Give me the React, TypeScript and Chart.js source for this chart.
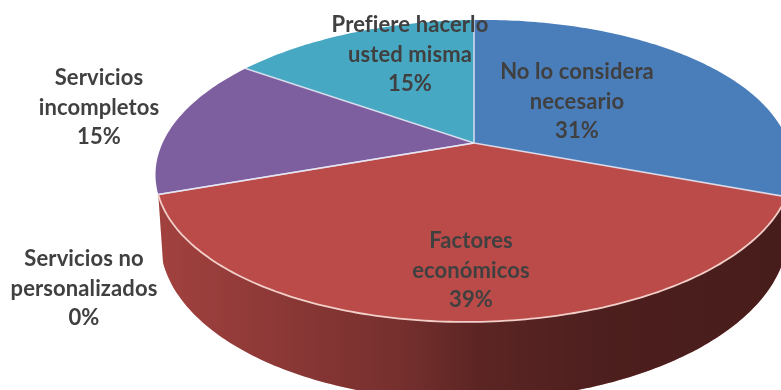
import { useEffect, useRef } from "react";
import { Chart, registerables } from "chart.js";

Chart.register(...registerables);

// Reasons, in clockwise order from twelve o'clock, each split into its printed lines.
const categories = [
  ["No lo considera", "necesario"],
  ["Factores", "económicos"],
  ["Servicios no", "personalizados"],
  ["Servicios", "incompletos"],
  ["Prefiere hacerlo", "usted misma"],
];
const shares = [31, 39, 0, 15, 15];
const sliceColors = ["#4A7EBB", "#BA4B48", "#98B954", "#7D5FA0", "#46A8C2"];

// Centre of each label's first line, in the same order as the categories.
const labelAnchors = [
  [577, 72],
  [471, 241],
  [84, 259],
  [99, 78],
  [410, 25],
];
const LINE_HEIGHT = 29.6;

// Tilted disc: apex on screen, radii, perspective strength, roll, wall height.
const APEX_X = 474;
const APEX_Y = 143;
const RADIUS_X = 313;
const RADIUS_Y = 145.8;
const PERSPECTIVE = 0.185;
const ROLL = -0.012;
const WALL = 64;
const FLOOR_SCALE = 0.985;

const project = (angle: number, floor = false) => {
  const w = 1 - PERSPECTIVE * Math.sin(angle);
  const s = floor ? FLOOR_SCALE : 1;
  const dx = (s * RADIUS_X * Math.cos(angle)) / w;
  return {
    x: APEX_X + dx,
    y: APEX_Y + (RADIUS_Y * Math.sin(angle) + (floor ? WALL : 0)) / w + ROLL * dx,
  };
};

const traceRim = (ctx: CanvasRenderingContext2D, from: number, to: number, floor = false) => {
  const steps = Math.max(2, Math.ceil(Math.abs(to - from) * 60));
  for (let i = 0; i <= steps; i++) {
    const p = project(from + ((to - from) * i) / steps, floor);
    ctx.lineTo(p.x, p.y);
  }
};

// Replaces the flat arcs with an extruded, perspective version of the same angles.
const tiltedPie = {
  id: "tiltedPie",
  beforeDatasetsDraw(chart: any) {
    const { ctx } = chart;
    const arcs = chart.getDatasetMeta(0).data;
    const colors = chart.data.datasets[0].backgroundColor;

    ctx.save();
    const wallShade = ctx.createLinearGradient(157, 0, 781, 0);
    wallShade.addColorStop(0, "rgba(0,0,0,0.13)");
    wallShade.addColorStop(0.23, "rgba(0,0,0,0.27)");
    wallShade.addColorStop(0.39, "rgba(0,0,0,0.37)");
    wallShade.addColorStop(0.51, "rgba(0,0,0,0.5)");
    wallShade.addColorStop(0.71, "rgba(0,0,0,0.59)");
    wallShade.addColorStop(1, "rgba(0,0,0,0.62)");

    // Only slices that face the viewer show a wall.
    arcs.forEach((arc: any, i: number) => {
      const mid = (arc.startAngle + arc.endAngle) / 2;
      if (arc.endAngle - arc.startAngle <= 0 || Math.sin(mid) <= 0) return;
      const wallPath = () => {
        ctx.beginPath();
        traceRim(ctx, arc.startAngle, arc.endAngle);
        traceRim(ctx, arc.endAngle, arc.startAngle, true);
        ctx.closePath();
      };
      wallPath();
      ctx.fillStyle = colors[i];
      ctx.fill();
      wallPath();
      ctx.fillStyle = wallShade;
      ctx.fill();
    });

    arcs.forEach((arc: any, i: number) => {
      if (arc.endAngle - arc.startAngle <= 0) return;
      ctx.beginPath();
      ctx.moveTo(APEX_X, APEX_Y);
      traceRim(ctx, arc.startAngle, arc.endAngle);
      ctx.closePath();
      ctx.fillStyle = colors[i];
      ctx.fill();
    });

    // Pale seams between the slices.
    ctx.lineWidth = 1.6;
    ctx.strokeStyle = "rgba(232,232,244,0.85)";
    arcs.forEach((arc: any) => {
      const p = project(arc.startAngle);
      ctx.beginPath();
      ctx.moveTo(APEX_X, APEX_Y);
      ctx.lineTo(p.x, p.y);
      ctx.stroke();
    });

    // Highlight along the front edge of the largest slice.
    const front = arcs[shares.indexOf(Math.max(...shares))];
    ctx.beginPath();
    traceRim(ctx, front.startAngle, front.endAngle);
    ctx.strokeStyle = "#F3CFC9";
    ctx.lineWidth = 1.8;
    ctx.stroke();
    ctx.restore();
    return false;
  },
  afterDraw(chart: any) {
    const { ctx } = chart;
    ctx.save();
    ctx.font = 'bold 22px Lato, "Open Sans", sans-serif';
    ctx.letterSpacing = "0.1px";
    ctx.fillStyle = "#404040";
    ctx.textAlign = "center";
    ctx.textBaseline = "middle";
    chart.data.labels.forEach((lines: string[], i: number) => {
      const [x, y] = labelAnchors[i];
      [...lines, `${chart.data.datasets[0].data[i]}%`].forEach((text, row) => {
        ctx.fillText(text, x, y + row * LINE_HEIGHT);
      });
    });
    ctx.restore();
  },
};

export default function App() {
  const canvasRef = useRef<HTMLCanvasElement>(null);

  useEffect(() => {
    const chart = new Chart(canvasRef.current!, {
      type: "pie",
      data: {
        labels: categories as any,
        datasets: [{ data: shares, backgroundColor: sliceColors, borderWidth: 0 }],
      },
      options: {
        animation: false,
        responsive: false,
        rotation: 0,
        plugins: { legend: { display: false }, tooltip: { enabled: false } },
      },
      plugins: [tiltedPie as any],
    });
    return () => chart.destroy();
  }, []);

  return (
    <canvas
      ref={canvasRef}
      width={781}
      height={390}
      style={{ position: "fixed", left: 0, top: 0, display: "block", background: "#fff" }}
    />
  );
}
